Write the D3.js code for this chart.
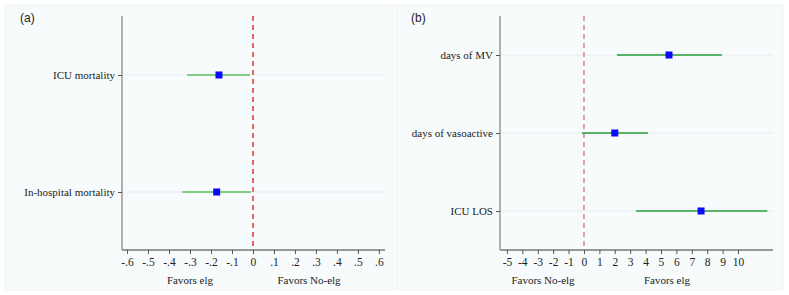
<!DOCTYPE html>
<html><head><meta charset="utf-8">
<script src="https://cdn.jsdelivr.net/npm/d3@7"></script>
<style>body{margin:0;background:#fff}svg{display:block}</style>
</head><body><svg id="c" width="789" height="295"></svg>
<script>
// Panel (a)
const catsA = ["ICU mortality", "In-hospital mortality"];
const estA = [-0.162, -0.173];
const lowA = [-0.314, -0.338];
const highA = [-0.014, -0.010];
const ticksA = [-0.6,-0.5,-0.4,-0.3,-0.2,-0.1,0,0.1,0.2,0.3,0.4,0.5,0.6];
const tickLabelsA = ["-.6","-.5","-.4","-.3","-.2","-.1","0",".1",".2",".3",".4",".5",".6"];
const favorsA = ["Favors elg", "Favors No-elg"];
// Panel (b)
const catsB = ["days of MV", "days of vasoactive", "ICU LOS"];
const estB = [5.52, 2.0, 7.6];
const lowB = [2.14, -0.13, 3.38];
const highB = [8.96, 4.16, 11.9];
const ticksB = [-5,-4,-3,-2,-1,0,1,2,3,4,5,6,7,8,9,10];
const tickLabelsB = ticksB.map(String);
const favorsB = ["Favors No-elg", "Favors elg"];

const svg = d3.select("#c");
const serif = "'Liberation Serif', 'DejaVu Serif', serif";

function panel(o) {
  const g = svg.append("g");
  g.append("rect").attr("x", o.bx).attr("y", 5).attr("width", o.bw).attr("height", 285)
    .attr("fill", "#f7fbfb").attr("stroke", "#eef4f4");
  g.append("text").attr("x", o.bx + 15).attr("y", 22).text(o.label)
    .attr("font-family", "'Liberation Sans', Arial, sans-serif").attr("font-size", 12).attr("fill", "#222");
  const x = d3.scaleLinear().domain(o.domain).range([o.x0, o.x1]);
  const y = d3.scalePoint().domain(o.cats).range(o.yr);
  // grid
  g.selectAll(".grid").data(o.cats).join("line")
    .attr("x1", o.x0).attr("x2", o.x1).attr("y1", d => y(d)).attr("y2", d => y(d))
    .attr("stroke", "#e6eef0").attr("stroke-width", 1);
  // x axis
  const xa = g.append("g").attr("transform", `translate(0,250)`)
    .call(d3.axisBottom(x).tickValues(o.ticks).tickFormat((d, i) => o.tickLabels[i]).tickSize(4).tickPadding(4));
  xa.select(".domain").attr("d", `M${o.x0},0H${o.x1}`).attr("stroke", "#777").attr("stroke-width", 1.3);
  xa.selectAll(".tick line").attr("stroke", "#555");
  xa.selectAll("text").attr("font-family", serif).attr("font-size", 11.5).attr("fill", "#222");
  // y axis
  const ya = g.append("g").attr("transform", `translate(${o.x0},0)`)
    .call(d3.axisLeft(y).tickSize(4).tickPadding(3));
  ya.select(".domain").attr("d", "M0,16V250").attr("stroke", "#888").attr("stroke-width", 1.3);
  ya.selectAll(".tick line").attr("stroke", "#555");
  ya.selectAll("text").attr("font-family", serif).attr("font-size", 11).attr("fill", "#222");
  // reference line
  g.append("line").attr("x1", x(0)).attr("x2", x(0)).attr("y1", 16).attr("y2", 250)
    .attr("stroke", o.refColor).attr("stroke-width", 1.4).attr("stroke-dasharray", "5,4");
  // CIs
  g.selectAll(".ci").data(o.cats).join("line")
    .attr("x1", (d, i) => x(o.low[i])).attr("x2", (d, i) => x(o.high[i]))
    .attr("y1", d => y(d)).attr("y2", d => y(d))
    .attr("stroke", o.ciColor).attr("stroke-width", 1.6);
  // points
  g.selectAll(".pt").data(o.cats).join("rect")
    .attr("x", (d, i) => x(o.est[i]) - 3.5).attr("y", d => y(d) - 3.5)
    .attr("width", 7).attr("height", 7).attr("fill", "#0a0aff");
  // favors labels
  g.selectAll(".fav").data(o.favors).join("text")
    .attr("x", (d, i) => o.favX[i]).attr("y", 284).attr("text-anchor", "middle")
    .attr("font-family", serif).attr("font-size", 11).attr("fill", "#222").text(d => d);
}

panel({bx: 5, bw: 388, label: "(a)", domain: [-0.624, 0.629], x0: 122, x1: 385,
  cats: catsA, yr: [75, 192], est: estA, low: lowA, high: highA,
  ticks: ticksA, tickLabels: tickLabelsA, favors: favorsA, favX: [190, 309],
  refColor: "#e02a2a", ciColor: "#5cbf5c"});
panel({bx: 396, bw: 387, label: "(b)", domain: [-5.45, 12.27], x0: 500, x1: 773,
  cats: catsB, yr: [55, 211], est: estB, low: lowB, high: highB,
  ticks: ticksB, tickLabels: tickLabelsB, favors: favorsB, favX: [543, 667],
  refColor: "#e8708e", ciColor: "#2a9d3a"});
</script></body></html>
